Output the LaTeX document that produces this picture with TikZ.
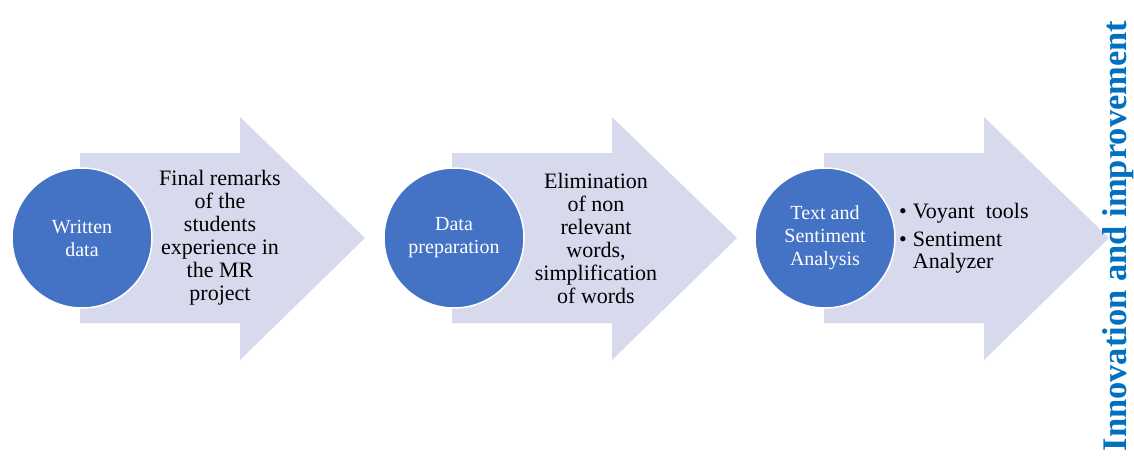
\documentclass[tikz,border=0pt]{standalone}
\usepackage{fontspec}
\setmainfont{Liberation Serif}
\definecolor{arrowfill}{RGB}{214,218,236}
\definecolor{circfill}{RGB}{68,114,196}
\definecolor{titleblue}{RGB}{0,112,192}
\begin{document}
\begin{tikzpicture}[x=1pt,y=-1pt,
  bigarrow/.style={fill=arrowfill,draw=none},
  stepcirc/.style={circle,fill=circfill,draw=white,line width=1.5pt,minimum size=140pt,inner sep=0pt,text=white,align=center,font=\fontsize{20}{23}\selectfont},
  arrowtext/.style={align=center,text=black,font=\fontsize{22}{23}\selectfont,inner sep=0pt},
  bullettext/.style={align=left,text=black,font=\fontsize{22}{22}\selectfont,inner sep=0pt,anchor=west}]
\useasboundingbox (0,0) rectangle (1134,459);
\foreach \o in {0,372,744}{
  \path[bigarrow] (80+\o,153) -- (240+\o,153) -- (240+\o,117) -- (365+\o,238)
     -- (240+\o,360) -- (240+\o,323) -- (80+\o,323) -- cycle;
}
\node[stepcirc] (c1) at (82,238) {Written\\data};
\node[stepcirc] (c2) at (454,238) {Data\\preparation};
\node[stepcirc] (c3) at (825,238) {Text and\\Sentiment\\Analysis};
\node[arrowtext] (t1) at (220,238) {Final remarks\\of the\\students\\experience in\\the MR\\project};
\node[arrowtext] (t2) at (596,238) {Elimination\\of non\\relevant\\words,\\simplification\\of words};
\node[bullettext] (t3) at (899,238) {\textbullet\hspace{6pt}Voyant\ \ tools\\[6pt]\textbullet\hspace{6pt}Sentiment\\\hphantom{\textbullet\hspace{6pt}}Analyzer};
\node[rotate=90,anchor=base,text=titleblue,font=\fontsize{34.5}{35}\selectfont\bfseries,inner sep=0pt] (title) at (1126,236) {Innovation and improvement};
\end{tikzpicture}
\end{document}
